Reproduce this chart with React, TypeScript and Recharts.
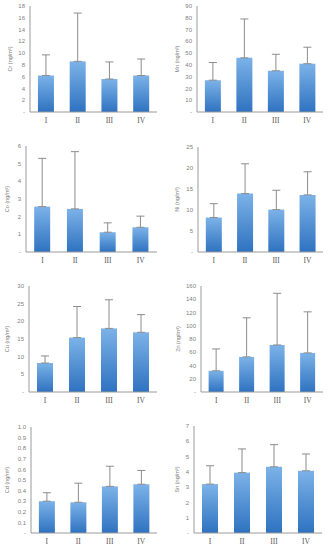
import React from "react";
import { BarChart, Bar, XAxis, YAxis, ErrorBar } from "recharts";

const categories = ["I", "II", "III", "IV"];

const crMean = [6.2, 8.6, 5.6, 6.2];
const crErr = [3.5, 8.2, 2.9, 2.8];
const crTicks = [0, 2, 4, 6, 8, 10, 12, 14, 16, 18];

const mnMean = [27, 46, 35, 41];
const mnErr = [15, 33, 14, 14];
const mnTicks = [0, 10, 20, 30, 40, 50, 60, 70, 80, 90];

const coMean = [2.57, 2.44, 1.12, 1.4];
const coErr = [2.73, 3.24, 0.53, 0.63];
const coTicks = [0, 1, 2, 3, 4, 5, 6];

const niMean = [8.2, 13.9, 10.1, 13.6];
const niErr = [3.3, 7.1, 4.6, 5.5];
const niTicks = [0, 5, 10, 15, 20, 25];

const cuMean = [8.2, 15.4, 18, 16.9];
const cuErr = [2.0, 8.8, 8.1, 5.0];
const cuTicks = [0, 5, 10, 15, 20, 25, 30];

const znMean = [32, 53, 71, 59];
const znErr = [33, 59, 78, 62];
const znTicks = [0, 20, 40, 60, 80, 100, 120, 140, 160];

const cdMean = [0.3, 0.29, 0.44, 0.46];
const cdErr = [0.08, 0.18, 0.19, 0.13];
const cdTicks = [0, 0.1, 0.2, 0.3, 0.4, 0.5, 0.6, 0.7, 0.8, 0.9, 1.0];

const snMean = [3.2, 3.95, 4.33, 4.07];
const snErr = [1.2, 1.55, 1.45, 1.1];
const snTicks = [0, 1, 2, 3, 4, 5, 6, 7];

const GRAY = "#9a9a9a";

function YLabel({ viewBox, text, lx }: any) {
  const cy = viewBox.y + viewBox.height / 2;
  return (
    <text
      x={lx}
      y={cy}
      transform={`rotate(-90 ${lx} ${cy})`}
      textAnchor="middle"
      dominantBaseline="central"
      fontSize={5.5}
      fill="#808080"
      fontFamily="Liberation Sans, Arial, sans-serif"
    >
      {text}
    </text>
  );
}

interface PanelProps {
  id: string;
  label: string;
  mean: number[];
  err: number[];
  ticks: number[];
  decimals: number;
  x0: number;
  y0: number;
  w: number;
  h: number;
  box: [number, number, number, number];
  lx: number;
}

function Panel({ id, label, mean, err, ticks, decimals, x0, y0, w, h, box, lx }: PanelProps) {
  const [L, T, R, B] = box;
  const data = categories.map((c, i) => ({ name: c, value: mean[i], err: [0, err[i]] }));
  const fmt = (v: number) => (v === 0 ? "-" : v.toFixed(decimals));
  return (
    <div style={{ position: "absolute", left: x0, top: y0 }}>
      <BarChart
        width={w}
        height={h}
        data={data}
        margin={{ top: T - y0, right: x0 + w - R, bottom: 0, left: 0 }}
        barCategoryGap="25%"
      >
        <defs>
          <linearGradient id={`g-${id}`} x1="0" y1="0" x2="0" y2="1">
            <stop offset="0%" stopColor="#7cb2e8" />
            <stop offset="100%" stopColor="#2e72c0" />
          </linearGradient>
        </defs>
        <XAxis
          dataKey="name"
          height={y0 + h - B}
          axisLine={{ stroke: GRAY }}
          tickLine={false}
          tickSize={0}
          tickMargin={6}
          tick={{ fontSize: 7.5, fill: "#555", fontFamily: "Liberation Serif, Times New Roman, serif" }}
        />
        <XAxis xAxisId="top" dataKey="name" orientation="top" height={0} tick={false} tickLine={false} axisLine={{ stroke: GRAY }} />
        <YAxis
          width={L - x0}
          domain={[0, ticks[ticks.length - 1]]}
          ticks={ticks}
          interval={0}
          tickFormatter={fmt}
          axisLine={{ stroke: GRAY }}
          tickLine={false}
          tickSize={0}
          tickMargin={5}
          tick={{ fontSize: 6, fill: "#808080", fontFamily: "Liberation Sans, Arial, sans-serif" }}
          label={<YLabel text={label} lx={lx - x0} />}
        />
        <YAxis yAxisId="right" orientation="right" width={0} tick={false} tickLine={false} axisLine={{ stroke: GRAY }} />
        <Bar dataKey="value" fill={`url(#g-${id})`} isAnimationActive={false}>
          <ErrorBar dataKey="err" direction="y" width={4} stroke="#8c8c8c" strokeWidth={1} />
        </Bar>
      </BarChart>
    </div>
  );
}

export default function App() {
  return (
    <div style={{ position: "absolute", left: 0, top: 0, width: 331, height: 550, background: "#fff" }}>
      <Panel id="cr" label="Cr (ng/m³)" mean={crMean} err={crErr} ticks={crTicks} decimals={0}
        x0={0} y0={0} w={165} h={135} box={[30, 6, 157, 112]} lx={10} />
      <Panel id="mn" label="Mn (ng/m³)" mean={mnMean} err={mnErr} ticks={mnTicks} decimals={0}
        x0={165} y0={0} w={166} h={135} box={[197, 6, 323, 112]} lx={177} />
      <Panel id="co" label="Co (ng/m³)" mean={coMean} err={coErr} ticks={coTicks} decimals={0}
        x0={0} y0={135} w={165} h={135} box={[26, 146, 157, 252]} lx={7} />
      <Panel id="ni" label="Ni (ng/m³)" mean={niMean} err={niErr} ticks={niTicks} decimals={0}
        x0={165} y0={135} w={166} h={135} box={[198, 147, 323, 252]} lx={177} />
      <Panel id="cu" label="Cu (ng/m³)" mean={cuMean} err={cuErr} ticks={cuTicks} decimals={0}
        x0={0} y0={270} w={165} h={140} box={[29, 286, 157, 392]} lx={7} />
      <Panel id="zn" label="Zn (ng/m³)" mean={znMean} err={znErr} ticks={znTicks} decimals={0}
        x0={165} y0={270} w={166} h={140} box={[201, 286, 323, 392]} lx={178} />
      <Panel id="cd" label="Cd (ng/m³)" mean={cdMean} err={cdErr} ticks={cdTicks} decimals={1}
        x0={0} y0={410} w={165} h={140} box={[31, 427, 157, 533]} lx={7} />
      <Panel id="sn" label="Sn (ng/m³)" mean={snMean} err={snErr} ticks={snTicks} decimals={0}
        x0={165} y0={410} w={166} h={140} box={[194, 426, 322, 533]} lx={177} />
    </div>
  );
}
